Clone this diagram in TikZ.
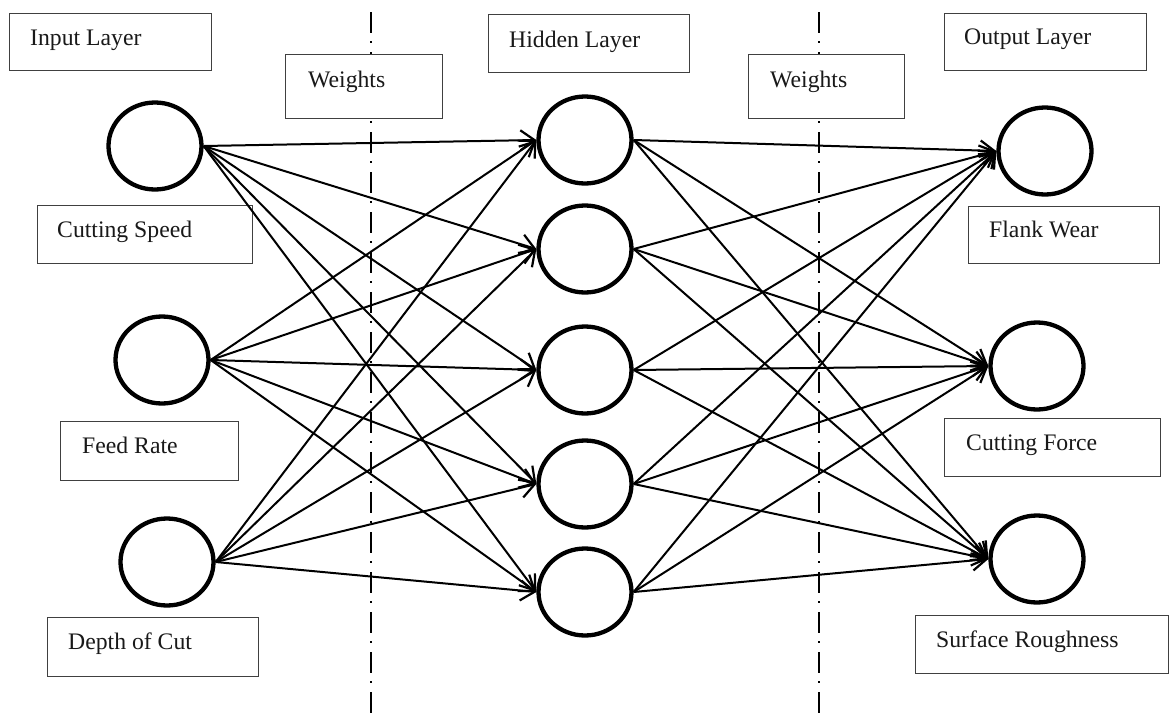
\documentclass[tikz,border=0pt]{standalone}
\usepackage{fontspec}
\setmainfont{Liberation Serif}
\usetikzlibrary{shapes.geometric,arrows.meta}
\begin{document}
\begin{tikzpicture}[x=1pt,y=-1pt,
  neuron/.style={ellipse, draw, line width=4.3pt, fill=white, minimum width=93pt, minimum height=87pt, inner sep=0pt},
  frame/.style={draw=black!75, line width=1.3pt, fill=white, anchor=north west, inner sep=0pt},
  lbl/.style={anchor=base west, inner sep=0pt, font=\fontsize{23.7}{28}\selectfont, text=black!90},
  conn/.style={line width=2pt, -{Straight Barb[length=14pt,width=20pt,line width=2.2pt]}},
  divider/.style={line width=2.5pt, dash pattern=on 21pt off 8pt on 2pt off 9pt}
]
\useasboundingbox (0,0) rectangle (1170,720);

% dash-dot dividers
\coordinate (d1t) at (371,12);
\coordinate (d1b) at (371,713);
\coordinate (d2t) at (819,12);
\coordinate (d2b) at (819,713);
\draw[divider] (d1t) -- (d1b);
\draw[divider] (d2t) -- (d2b);

% frames
\node[frame, minimum width=202pt, minimum height=57pt] (bIn) at (9,13) {};
\node[lbl] (tIn) at (30,45) {Input Layer};
\node[frame, minimum width=157pt, minimum height=64pt] (bW1) at (285,54) {};
\node[lbl] (tW1) at (308,87) {Weights};
\node[frame, minimum width=201pt, minimum height=58pt] (bHid) at (488,14) {};
\node[lbl] (tHid) at (509,47) {Hidden Layer};
\node[frame, minimum width=156pt, minimum height=64pt] (bW2) at (748,54) {};
\node[lbl] (tW2) at (770,87) {Weights};
\node[frame, minimum width=202pt, minimum height=57pt] (bOut) at (944,13) {};
\node[lbl] (tOut) at (964,44) {Output Layer};

\node[frame, minimum width=215pt, minimum height=58pt] (bCS) at (37,205) {};
\node[lbl] (tCS) at (57,237) {Cutting Speed};
\node[frame, minimum width=178pt, minimum height=59pt] (bFR) at (60,421) {};
\node[lbl] (tFR) at (82,453) {Feed Rate};
\node[frame, minimum width=211pt, minimum height=59pt] (bDC) at (47,617) {};
\node[lbl] (tDC) at (68,649) {Depth of Cut};

\node[frame, minimum width=191pt, minimum height=57pt] (bFW) at (968,206) {};
\node[lbl] (tFW) at (989,237) {Flank Wear};
\node[frame, minimum width=216pt, minimum height=58pt] (bCF) at (944,418) {};
\node[lbl] (tCF) at (966,450) {Cutting Force};
\node[frame, minimum width=253pt, minimum height=58pt] (bSR) at (915,615) {};
\node[lbl] (tSR) at (936,647) {Surface Roughness};

% neurons
\node[neuron] (i1) at (155,146) {};
\node[neuron] (i2) at (162,360) {};
\node[neuron] (i3) at (167,562) {};
\node[neuron] (h1) at (585,140) {};
\node[neuron] (h2) at (585,249) {};
\node[neuron] (h3) at (585,370) {};
\node[neuron] (h4) at (585,484) {};
\node[neuron] (h5) at (585,592) {};
\node[neuron] (o1) at (1045,151) {};
\node[neuron] (o2) at (1037,366) {};
\node[neuron] (o3) at (1037,559) {};

% connectors
\foreach \a in {i1,i2,i3}
  \foreach \b in {h1,h2,h3,h4,h5}
    \draw[conn] (\a.east) -- (\b.west);
\foreach \a in {h1,h2,h3,h4,h5}
  \foreach \b in {o1,o2,o3}
    \draw[conn] (\a.east) -- (\b.west);
\end{tikzpicture}
\end{document}
